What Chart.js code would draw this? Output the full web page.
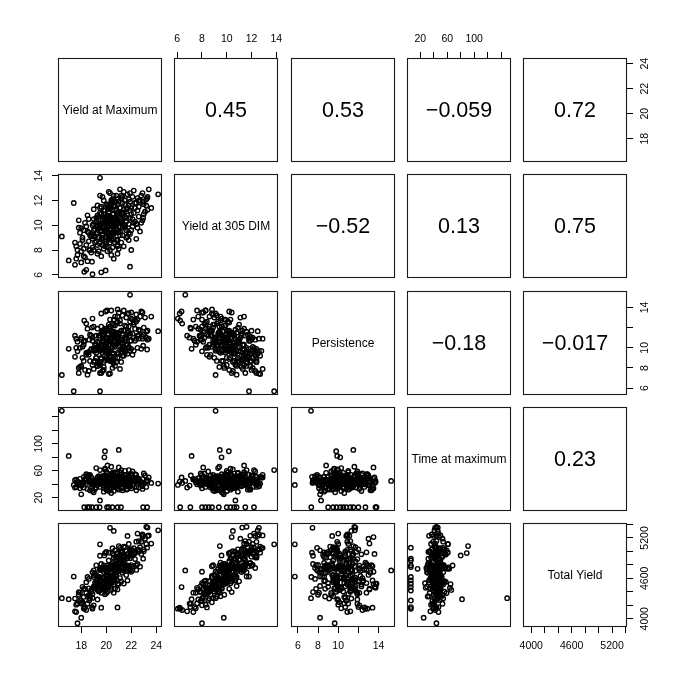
<!DOCTYPE html>
<html>
<head>
<meta charset="utf-8">
<script src="https://cdn.jsdelivr.net/npm/chart.js@4.4.1/dist/chart.umd.min.js"></script>
<style>
  html, body { margin: 0; padding: 0; background: #fff; }
  #wrap { position: relative; width: 685px; height: 685px; overflow: hidden; background: #fff; }
  #wrap canvas { position: absolute; }
</style>
</head>
<body>
<div id="wrap"></div>
<script>
// variable names (diagonal)
const varNames = ['Yield at Maximum', 'Yield at 305 DIM', 'Persistence', 'Time at maximum', 'Total Yield'];

// one value per animal, same order in every array
const yieldMax = [
  16.45, 19.5, 24.15, 17.4, 21.9, 17.7, 18.0, 19.5, 21.0, 19.9,
  19.85, 17.0, 18.9, 18.4, 19.6, 19.95, 17.5, 23.2, 23.3, 20.3,
  20.6, 22.9, 20.9,
  18.24, 18.64, 18.86, 19.47, 20.06, 20.49, 20.91, 21.18, 22.95, 23.27, 19.2, 20.2, 18.5,
  20.1, 21.3, 19.2, 22.4, 18.7, 20.8, 19.8, 21.7, 20.5, 19.0,
  22.8, 18.2, 20.3, 21.1, 19.6, 23.1, 17.9, 20.9, 21.5, 19.4,
  20.0, 22.1, 18.9, 20.6, 21.9, 19.3, 20.4, 22.6, 18.4, 21.2,
  19.9, 20.7, 17.6, 23.4, 20.2, 21.6, 19.1, 22.2, 20.0, 18.6,
  21.0, 19.7, 22.0, 20.5, 18.3, 21.4, 20.3, 19.5, 22.7, 20.8,
  17.8, 21.8, 19.9, 20.6, 22.3, 18.8, 20.2, 21.3, 19.6, 23.0,
  20.4, 18.1, 21.5, 19.8, 22.5, 20.1, 21.0, 18.5, 19.3, 21.9,
  20.7, 17.5, 22.9, 19.0, 20.9, 21.2, 19.4, 20.3, 22.0, 18.0,
  20.5, 21.6, 19.7, 23.2, 20.0, 21.1, 18.9, 22.3, 19.2, 20.6,
  21.4, 20.2, 18.6, 21.7, 19.5, 22.1, 20.8, 19.0, 20.4, 21.3,
  17.7, 22.6, 20.1, 19.6, 21.0, 23.6, 18.3, 20.7, 21.8, 19.8,
  20.9, 22.4, 19.1, 20.3, 21.5, 18.7, 20.0, 22.2, 19.3, 21.1,
  20.5, 19.9, 22.8, 18.2, 21.2, 20.6, 19.4, 21.9, 20.2, 23.0,
  19.6, 20.8, 18.8, 21.4, 20.0, 22.5, 19.2, 20.4, 21.7, 18.4,
  20.7, 21.8, 19.5, 20.9, 22.0, 19.7, 20.3, 21.3, 18.1, 22.7,
  20.6, 19.0, 21.6, 20.1, 22.4, 18.5, 19.8, 21.0, 23.3, 17.9,
  20.4, 21.2, 19.3, 22.9, 20.0, 18.0, 17.6, 18.2, 17.8, 20.5,
  20.4, 20.9, 19.7, 21.2, 20.0, 21.6, 19.3, 20.7, 22.1, 19.9,
  20.5, 21.0, 19.5, 20.2, 21.8, 20.3, 19.0, 20.8, 21.4, 19.6,
  20.1, 21.1, 20.6, 19.8, 22.3, 20.9, 19.4, 20.0, 21.5, 20.4,
  18.9, 20.7, 21.9, 19.2, 20.3, 21.3, 20.1, 19.7, 22.0, 20.6,
  19.9, 21.7, 20.2, 18.8, 21.0, 20.5, 19.4, 22.5, 20.8, 19.1,
  21.3, 20.4, 19.6, 21.6, 20.0, 20.9, 19.3, 21.1, 20.3, 22.2,
  19.8, 20.6, 21.4, 19.5, 20.7, 18.6, 21.9, 20.2, 20.8, 19.7,
  21.2, 20.5, 19.0, 22.6, 20.1, 21.5, 19.6, 20.9, 20.4, 21.8
];
const yield305 = [
  9.1, 13.83, 12.5, 11.8, 6.65, 8.0, 9.76, 10.7, 9.44, 10.17,
  9.58, 7.16, 6.05, 6.4, 6.2, 6.35, 6.8, 11.6, 11.25, 12.6,
  10.5, 10.4, 8.4,
  6.24, 8.0, 7.06, 8.54, 8.28, 9.36, 8.81, 10.3, 10.6, 12.2, 10.0, 11.5, 10.8,
  9.8, 10.9, 8.7, 11.8, 9.2, 10.4, 11.2, 9.1, 8.2, 10.1,
  12.4, 8.1, 10.6, 11.4, 9.5, 11.1, 9.4, 12.1, 10.0, 7.9,
  11.7, 9.9, 8.9, 9.3, 12.6, 10.8, 7.6, 10.7, 9.9, 8.6,
  10.3, 11.9, 8.3, 12.9, 9.0, 11.3, 9.7, 11.0, 8.5, 10.5,
  10.2, 12.3, 8.0, 10.9, 7.4, 12.7, 9.6, 11.0, 9.5, 8.8,
  10.4, 11.6, 8.3, 12.4, 10.3, 7.8, 10.0, 9.2, 11.5, 11.7,
  9.4, 9.0, 12.0, 9.9, 12.2, 7.9, 11.1, 9.5, 8.4, 10.6,
  10.1, 8.6, 12.6, 11.3, 7.7, 10.5, 10.4, 11.3, 9.6, 7.9,
  10.3, 9.0, 9.2, 12.1, 10.7, 12.9, 10.0, 11.4, 9.3, 11.6,
  8.3, 8.9, 8.7, 10.8, 9.8, 12.3, 9.7, 8.0, 11.8, 9.9,
  7.6, 11.5, 10.8, 7.5, 11.9, 11.4, 10.2, 8.6, 9.4, 12.0,
  10.9, 10.1, 9.1, 8.0, 11.7, 8.0, 9.4, 12.8, 11.6, 9.5,
  12.1, 10.5, 10.2, 9.6, 12.4, 7.3, 9.0, 11.2, 12.7, 10.9,
  10.2, 11.3, 9.1, 10.0, 9.1, 9.8, 10.6, 10.4, 12.5, 8.4,
  9.9, 8.8, 12.4, 10.2, 11.4, 8.8, 10.2, 11.8, 8.8, 12.0,
  10.0, 9.6, 10.3, 11.4, 8.9, 7.1, 10.9, 8.1, 12.3, 8.5,
  9.7, 12.2, 7.7, 11.9, 10.1, 7.0, 7.3, 7.5, 9.8, 11.3,
  10.1, 9.6, 10.4, 11.0, 9.0, 10.6, 9.4, 11.5, 10.5, 8.7,
  9.9, 10.8, 10.0, 11.1, 10.1, 8.6, 9.1, 10.3, 11.3, 8.9,
  10.5, 9.2, 10.9, 9.7, 11.8, 11.7, 10.7, 9.5, 9.8, 12.0,
  8.2, 9.4, 11.9, 10.3, 9.2, 10.4, 11.6, 8.4, 10.9, 8.9,
  11.2, 11.4, 10.7, 9.3, 9.9, 11.9, 9.8, 11.2, 10.0, 8.6,
  12.3, 9.1, 10.9, 9.6, 10.4, 8.3, 9.9, 10.6, 11.4, 10.2,
  8.1, 9.7, 11.0, 11.4, 10.5, 9.4, 9.3, 9.9, 12.4, 9.0,
  10.2, 10.6, 10.5, 12.0, 9.3, 10.7, 9.6, 11.0, 8.8, 12.1
];
const persistence = [
  7.3, 5.7, 11.65, 5.7, 15.25, 9.65, 8.2, 8.3, 11.5, 9.8,
  10.2, 9.9, 12.9, 12.4, 13.4, 13.6, 11.2, 11.6, 11.7, 7.45,
  11.3, 13.5, 12.6,
  12.7, 10.8, 12.0, 11.2, 13.7, 11.5, 13.8, 10.5, 10.2, 9.83, 9.0, 9.5, 7.33,
  10.7, 10.0, 11.2, 10.9, 8.7, 11.5, 8.1, 13.4, 12.4, 9.8,
  9.9, 10.6, 8.7, 9.8, 11.4, 13.0, 8.1, 9.0, 11.0, 11.2,
  9.0, 12.8, 10.7, 10.6, 9.7, 8.2, 13.7, 11.8, 9.5, 11.7,
  9.6, 8.2, 10.0, 10.9, 12.3, 10.3, 8.7, 12.3, 11.9, 7.7,
  11.4, 7.7, 13.5, 8.8, 10.7, 9.2, 12.1, 8.6, 13.1, 11.2,
  7.5, 10.0, 11.9, 8.8, 12.8, 11.2, 9.7, 13.2, 7.5, 11.3,
  11.6, 9.0, 9.7, 10.6, 10.0, 11.8, 11.0, 9.5, 10.1, 11.2,
  11.0, 9.1, 10.9, 7.9, 13.1, 9.9, 9.9, 9.0, 12.9, 10.8,
  11.0, 13.0, 10.2, 11.0, 9.5, 7.9, 8.3, 11.9, 10.3, 8.5,
  13.7, 12.0, 9.3, 11.5, 9.7, 9.3, 11.1, 12.1, 9.1, 10.8,
  10.6, 11.2, 9.8, 12.1, 9.4, 13.1, 7.8, 13.1, 12.1, 7.8,
  10.5, 12.6, 9.7, 12.8, 9.5, 11.3, 10.5, 9.7, 8.2, 12.7,
  8.0, 9.9, 13.6, 8.7, 8.6, 12.8, 10.5, 11.4, 7.4, 12.0,
  8.9, 10.3, 9.9, 11.7, 10.5, 12.8, 9.5, 10.0, 9.4, 9.3,
  12.2, 13.4, 7.5, 10.5, 9.9, 11.7, 10.3, 9.9, 10.1, 11.7,
  10.3, 9.7, 11.0, 8.8, 13.3, 11.9, 8.6, 13.5, 10.8, 10.0,
  10.6, 9.5, 11.9, 11.1, 10.9, 11.0, 10.9, 10.3, 8.0, 9.5,
  10.8, 11.2, 9.5, 10.8, 11.0, 11.3, 10.6, 9.0, 11.4, 11.7,
  10.1, 10.6, 9.9, 9.6, 11.6, 12.1, 9.9, 11.4, 9.8, 10.3,
  9.7, 12.4, 9.4, 10.9, 10.7, 9.5, 8.4, 10.3, 12.2, 8.7,
  11.0, 11.0, 10.7, 9.0, 10.9, 11.4, 8.9, 11.3, 10.7, 12.3,
  8.8, 10.3, 10.2, 9.8, 10.8, 8.6, 10.2, 11.2, 11.4, 10.3,
  9.2, 10.9, 9.0, 12.1, 9.8, 12.5, 9.9, 10.5, 9.2, 12.5,
  11.6, 11.6, 10.1, 8.3, 10.1, 9.6, 12.6, 11.3, 8.6, 10.7,
  11.7, 9.4, 8.6, 10.9, 11.4, 10.8, 9.8, 10.6, 11.7, 10.1
];
const timeMax = [
  149, 61, 41, 39, 45, 44, 25, 16, 91, 89,
  80, 82, 39, 42, 44, 50, 35, 44, 46, 42,
  46, 48, 40,
  6, 6, 6, 6, 6, 6, 6, 6, 6, 6, 6, 6, 6,
  42, 49, 35, 54, 31, 47, 38, 33, 56, 44,
  39, 51, 36, 58, 43, 53, 34, 46, 60, 40,
  32, 48, 41, 52, 37, 50, 45, 35, 55, 47,
  63, 43, 36, 50, 30, 54, 46, 40, 59, 44,
  38, 52, 34, 57, 47, 41, 33, 51, 45, 37,
  43, 61, 49, 36, 55, 40, 48, 31, 46, 42,
  66, 39, 53, 35, 47, 56, 44, 33, 50, 41,
  58, 46, 37, 43, 49, 34, 52, 45, 55, 38,
  42, 50, 47, 36, 44, 54, 30, 48, 64, 39,
  43, 46, 53, 37, 45, 59, 49, 41, 34, 52,
  40, 44, 52, 47, 32, 42, 48, 38, 51, 45,
  57, 36, 33, 49, 43, 54, 44, 50, 39, 46,
  52, 62, 42, 35, 45, 48, 46, 37, 51, 56,
  41, 47, 50, 44, 36, 49, 43, 54, 40, 46,
  48, 38, 45, 34, 55, 42, 50, 47, 41, 44,
  30, 28, 32, 68, 31, 53, 29, 65, 44, 48,
  27, 61, 44, 33, 46, 38, 47, 43, 40, 44,
  45, 41, 48, 43, 39, 46, 44, 51, 38, 47,
  42, 49, 36, 44, 53, 40, 45, 47, 41, 50,
  43, 46, 37, 52, 44, 40, 46, 48, 42, 45,
  43, 39, 47, 44, 50, 35, 46, 41, 45, 54,
  42, 48, 44, 46, 38, 47, 43, 49, 45, 40,
  44, 52, 46, 41, 43, 47, 45, 50, 39, 46,
  44, 42, 48, 45, 36, 47, 43, 44, 51, 46,
  40, 45, 42, 48, 44, 47, 41, 46, 43, 45
];
const totalYield = [
  4306, 5105, 5313, 4627, 4718, 3935, 4015, 4742, 5080, 4976,
  4941, 4290, 4150, 4130, 4165, 4470, 4110, 5365, 5355, 5350,
  5305, 5213, 4168,
  4148, 4272, 4173, 4420, 4470, 4570, 4520, 4767, 4892, 5056, 4793, 4867, 4620,
  4651, 4773, 4448, 5145, 4331, 4886, 4694, 4570, 4559, 4649,
  5143, 4325, 4570, 4954, 4485, 5190, 4387, 4966, 4742, 4486,
  4992, 4727, 4310, 4618, 5029, 4487, 4459, 4994, 4543, 4554,
  4743, 5017, 4209, 5238, 4481, 4791, 4678, 4957, 4382, 4592,
  4725, 4754, 4698, 4969, 4174, 5072, 4740, 4556, 4773, 4636,
  4397, 5110, 4363, 4908, 4986, 4400, 4611, 4683, 4815, 5001,
  4429, 4475, 4922, 4604, 5265, 4401, 4885, 4333, 4427, 4899,
  4547, 4300, 5252, 4719, 4436, 5004, 4556, 4780, 4798, 4266,
  4779, 4651, 4474, 5110, 4572, 5054, 4690, 4886, 4458, 4948,
  4522, 4551, 4352, 4960, 4556, 5017, 4816, 4199, 4779, 4803,
  4228, 5154, 4741, 4385, 4825, 5117, 4444, 4447, 4790, 4794,
  4756, 4725, 4538, 4530, 5062, 4301, 4592, 5047, 4627, 4834,
  4799, 4763, 4963, 4445, 4984, 4388, 4406, 4939, 4981, 5031,
  4745, 4716, 4430, 4712, 4702, 4815, 4648, 4689, 5230, 4383,
  4637, 4780, 4936, 4726, 5028, 4474, 4600, 4993, 4245, 5063,
  4728, 4459, 4891, 4791, 4795, 4223, 4754, 4515, 5229, 4277,
  4529, 4984, 4287, 5232, 4592, 4226, 4099, 4155, 4357, 5049,
  4639, 4726, 4614, 4874, 4542, 4781, 4587, 4797, 4937, 4423,
  4769, 4705, 4606, 4761, 4780, 4560, 4479, 4656, 4942, 4445,
  4761, 4604, 4788, 4514, 4976, 4976, 4626, 4712, 4712, 4789,
  4370, 4707, 4999, 4528, 4540, 4813, 4691, 4454, 4948, 4508,
  4763, 4900, 4751, 4400, 4765, 4829, 4616, 5025, 4646, 4458,
  4913, 4549, 4725, 4751, 4622, 4566, 4527, 4874, 4730, 4777,
  4454, 4588, 4872, 4726, 4797, 4452, 4739, 4521, 4916, 4484,
  4854, 4649, 4619, 5024, 4591, 4812, 4555, 4756, 4609, 4970
];

// axis ticks and which of them carry a label
const tickValues = [
  [18, 20, 22, 24],
  [6, 8, 10, 12, 14],
  [6, 8, 10, 12, 14],
  [20, 40, 60, 80, 100, 120, 140],
  [4000, 4200, 4400, 4600, 4800, 5000, 5200, 5400]
];
const tickLabels = [
  [18, 20, 22, 24],
  [6, 8, 10, 12, 14],
  [6, 8, 10, 14],
  [20, 60, 100],
  [4000, 4600, 5200]
];

// correlations printed in the upper panels, row by row
const corrValues = [0.45, 0.53, -0.059, 0.72, -0.52, 0.13, 0.75, -0.18, -0.017, 0.23];

const series = [yieldMax, yield305, persistence, timeMax, totalYield];

// layout
const PANEL = 104, M = 45, TICK = 6;
const LEFTS = [58, 174, 291, 407, 523];
const TOPS = [58, 174, 291, 407, 523];
const LABEL_SIZE = 10.5, NAME_SIZE = 12, CORR_SIZE = 21.5;
const GAP_H = 19, GAP_V = 18.5;
const FONT = '"Liberation Sans", Arial, Helvetica, sans-serif';

Chart.defaults.font.family = FONT;
Chart.defaults.color = '#000';

function limits(arr) {
  const lo = Math.min(...arr), hi = Math.max(...arr);
  const pad = (hi - lo) * 0.04;
  return [lo - pad, hi + pad];
}

const measureCtx = document.createElement('canvas').getContext('2d');
function widest(labels, size) {
  measureCtx.font = size + 'px ' + FONT;
  return Math.max(...labels.map(l => measureCtx.measureText(String(l)).width));
}

function scaleFor(v, pos, shown) {
  const [min, max] = limits(series[v]);
  const horizontal = pos === 'top' || pos === 'bottom';
  const cfg = {
    type: 'linear',
    position: pos,
    min: min,
    max: max,
    bounds: 'data',
    display: shown,
    border: { display: false },
    grid: { drawOnChartArea: false, drawTicks: true, tickLength: TICK, tickColor: '#000', tickWidth: 1, color: '#000' },
    afterBuildTicks: s => { s.ticks = tickValues[v].map(t => ({ value: t })); },
    ticks: {
      autoSkip: false,
      color: '#000',
      font: { size: LABEL_SIZE },
      callback: val => tickLabels[v].includes(val) ? String(val) : ''
    }
  };
  if (shown) {
    cfg.afterFit = s => { if (horizontal) s.height = M; else s.width = M; };
    if (horizontal) {
      cfg.ticks.minRotation = 0;
      cfg.ticks.maxRotation = 0;
      cfg.ticks.padding = GAP_H - TICK - LABEL_SIZE * 0.6;
    } else {
      cfg.ticks.minRotation = 90;
      cfg.ticks.maxRotation = 90;
      cfg.ticks.crossAlign = 'center';
      cfg.ticks.padding = GAP_V - TICK - widest(tickLabels[v], LABEL_SIZE) / 2;
    }
  }
  return cfg;
}

// box round each panel + the text of diagonal / upper panels
const panelDecor = {
  id: 'panelDecor',
  afterDraw(chart, args, opts) {
    const { ctx, chartArea: a } = chart;
    ctx.save();
    ctx.strokeStyle = '#1a1a1a';
    ctx.lineWidth = 1.1;
    ctx.strokeRect(a.left + 0.5, a.top + 0.5, a.width - 1, a.height - 1);
    if (opts.text) {
      ctx.fillStyle = '#000';
      ctx.font = opts.size + 'px ' + FONT;
      ctx.textAlign = 'center';
      ctx.textBaseline = 'middle';
      ctx.fillText(opts.text, (a.left + a.right) / 2, (a.top + a.bottom) / 2 + 1);
    }
    ctx.restore();
  }
};

const wrap = document.getElementById('wrap');
let corrIndex = 0;

for (let i = 0; i < 5; i++) {
  for (let j = 0; j < 5; j++) {
    const canvas = document.createElement('canvas');
    canvas.width = PANEL + 2 * M;
    canvas.height = PANEL + 2 * M;
    canvas.style.left = (LEFTS[j] - M) + 'px';
    canvas.style.top = (TOPS[i] - M) + 'px';
    wrap.appendChild(canvas);

    const xTop = i === 0 && j % 2 === 1;
    const xBottom = i === 4 && j % 2 === 0;
    const yLeft = j === 0 && i % 2 === 1;
    const yRight = j === 4 && i % 2 === 0;

    let text = null, size = 0;
    if (i === j) {
      text = varNames[i]; size = NAME_SIZE;
    } else if (i < j) {
      text = String(corrValues[corrIndex++]).replace('-', '\u2212'); size = CORR_SIZE;
    }

    const points = i > j ? series[j].map((x, k) => ({ x: x, y: series[i][k] })) : [];

    new Chart(canvas, {
      type: 'scatter',
      data: {
        datasets: [{
          data: points,
          pointStyle: 'circle',
          pointRadius: 2.2,
          pointBorderWidth: 1.4,
          pointBorderColor: '#000',
          pointBackgroundColor: 'rgba(0,0,0,0)'
        }]
      },
      options: {
        responsive: false,
        animation: false,
        events: [],
        layout: {
          autoPadding: false,
          padding: {
            top: xTop ? 0 : M,
            bottom: xBottom ? 0 : M,
            left: yLeft ? 0 : M,
            right: yRight ? 0 : M
          }
        },
        plugins: {
          legend: { display: false },
          tooltip: { enabled: false },
          panelDecor: { text: text, size: size }
        },
        scales: {
          x: scaleFor(j, xTop ? 'top' : 'bottom', xTop || xBottom),
          y: scaleFor(i, yRight ? 'right' : 'left', yLeft || yRight)
        }
      },
      plugins: [panelDecor]
    });
  }
}
</script>
</body>
</html>
